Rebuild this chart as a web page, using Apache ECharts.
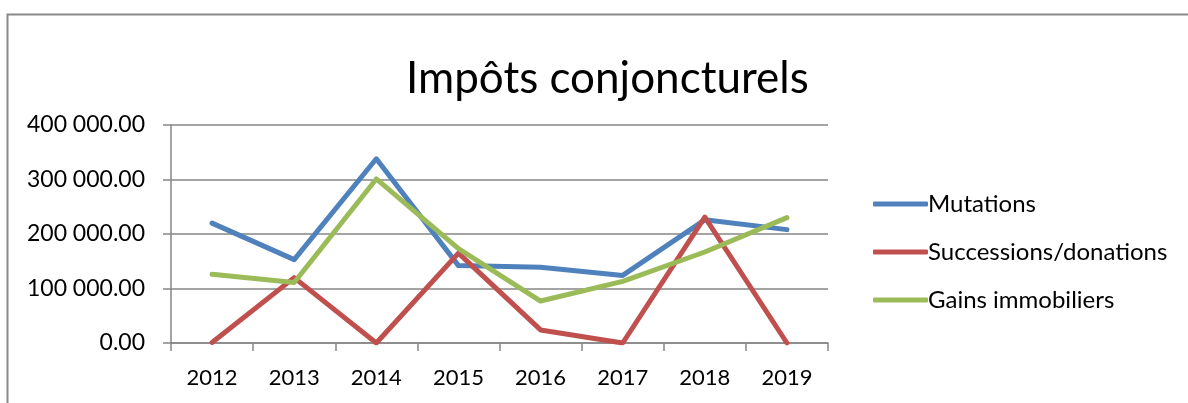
<!DOCTYPE html>
<html>
<head>
<meta charset="utf-8">
<script src="https://cdn.jsdelivr.net/npm/echarts@6/dist/echarts.min.js"></script>
<style>
html,body{margin:0;padding:0;background:#fff;}
#chart{width:1188px;height:403px;}
</style>
</head>
<body>
<div id="chart"></div>
<script>
const categories = ['2012','2013','2014','2015','2016','2017','2018','2019'];
const mutations = [220000, 153000, 338000, 142000, 139000, 124000, 226000, 208000];
const successions = [1000, 120000, 0, 165000, 24000, 0, 231000, 0];
const gains = [126000, 111000, 301000, 173000, 77000, 113000, 167000, 230000];
const seriesNames = ['Mutations', 'Successions/donations', 'Gains immobiliers'];
const seriesColors = ['#4F81BD', '#C0504D', '#9BBB59'];
const titleText = 'Impôts conjoncturels';

const FONT = 'Lato';
function fmt(v){
  const s = Math.round(v).toString().replace(/\B(?=(\d{3})+(?!\d))/g, ' ');
  return s + '.00';
}
const chart = echarts.init(document.getElementById('chart'), null, {renderer:'canvas'});
const data = [mutations, successions, gains];
chart.setOption({
  animation: false,
  backgroundColor: '#fff',
  title: {
    text: titleText,
    left: 401, top: 52,
    textStyle: {fontFamily: FONT, fontSize: 44, fontWeight: 'normal', color: '#000'}
  },
  graphic: [{
    type: 'rect', left: 5, top: 12, silent: true,
    shape: {width: 1300, height: 500},
    style: {fill: 'none', stroke: '#898989', lineWidth: 2}
  }],
  legend: {
    orient: 'vertical', left: 868, top: 187,
    itemWidth: 55, itemHeight: 5, itemGap: 24, icon: 'roundRect',
    textStyle: {fontFamily: FONT, fontSize: 24, color: '#000', padding: [0, 0, 0, -5]},
    data: seriesNames
  },
  grid: {left: 171, right: 360, top: 125, bottom: 60, containLabel: false},
  xAxis: {
    type: 'category', data: categories, boundaryGap: true,
    axisLine: {lineStyle: {color: '#868686', width: 1.5}},
    axisTick: {show: true, length: 8, lineStyle: {color: '#868686', width: 1.5}},
    axisLabel: {fontFamily: FONT, fontSize: 22, color: '#000', margin: 24}
  },
  yAxis: {
    type: 'value', min: 0, max: 400000, interval: 100000,
    axisLine: {show: true, lineStyle: {color: '#868686', width: 1.5}},
    axisTick: {show: true, length: 8, lineStyle: {color: '#868686', width: 1.5}},
    splitLine: {lineStyle: {color: '#868686', width: 1.5}},
    axisLabel: {fontFamily: FONT, fontSize: 23, color: '#000', margin: 26, formatter: fmt}
  },
  series: seriesNames.map((n, i) => ({
    name: n, type: 'line', data: data[i], symbol: 'none', smooth: false,
    color: seriesColors[i],
    lineStyle: {width: 5, color: seriesColors[i], cap: 'round', join: 'round'}
  }))
});
</script>
</body>
</html>
